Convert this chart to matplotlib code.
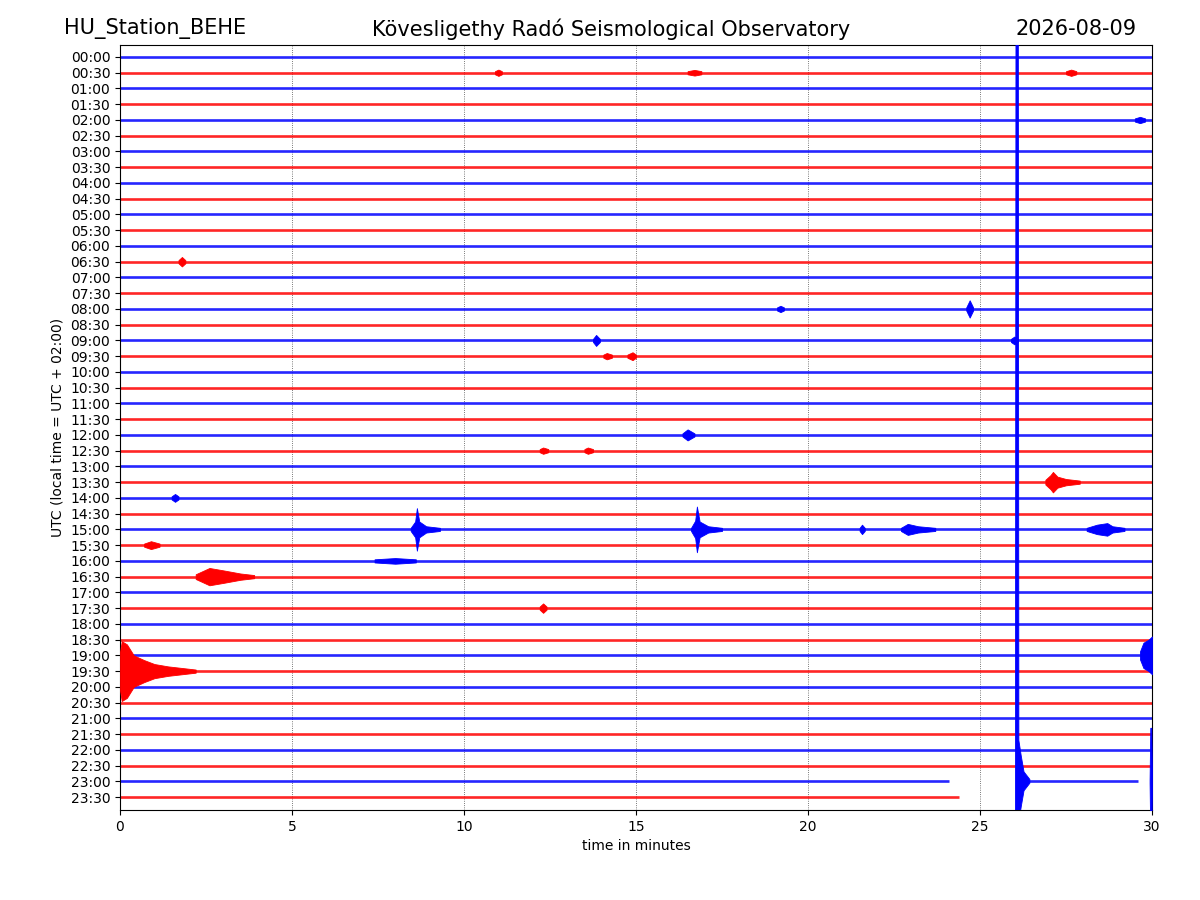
import matplotlib
matplotlib.use("Agg")
import matplotlib.pyplot as plt

# row labels: half-hour lines of the day
row_labels = ["%02d:%02d" % (h, m) for h in range(24) for m in (0, 30)]
row_colors = ["blue" if i % 2 == 0 else "red" for i in range(48)]

# trace segments per row (start, end in minutes); default full 0..30
trace_segments = {46: [(0.0, 24.1), (26.2, 29.6)],
                  47: [(0.0, 24.4)]}

# events: (row, times in minutes, half amplitude in row units)
events = [
    (39, [0.0, 0.05, 0.2, 0.4, 0.7, 1.0, 1.4, 1.8, 2.2],
         [1.2, 1.9, 1.7, 1.0, 0.7, 0.45, 0.3, 0.2, 0.1]),
    (38, [29.65, 29.75, 29.9, 30.0], [0.25, 0.8, 1.0, 1.2]),
    (46, [26.03, 26.05, 26.11, 26.13, 26.2, 26.28, 26.45],
         [0.1, 60.0, 60.0, 2.6, 1.6, 0.6, 0.12]),
    (46, [29.93, 29.95, 29.98, 30.0], [0.1, 3.4, 3.4, 0.5]),
    (27, [26.9, 27.05, 27.12, 27.25, 27.5, 27.9], [0.15, 0.45, 0.65, 0.35, 0.2, 0.1]),
    (30, [8.45, 8.58, 8.63, 8.7, 8.9, 9.3], [0.1, 0.5, 1.35, 0.5, 0.2, 0.1]),
    (30, [16.6, 16.72, 16.77, 16.85, 17.1, 17.5], [0.1, 0.55, 1.45, 0.5, 0.2, 0.1]),
    (30, [21.5, 21.57, 21.65], [0.1, 0.3, 0.1]),
    (30, [22.7, 22.9, 23.2, 23.7], [0.1, 0.35, 0.2, 0.1]),
    (30, [28.1, 28.4, 28.7, 28.85, 29.2], [0.1, 0.3, 0.4, 0.2, 0.1]),
    (28, [1.5, 1.6, 1.7], [0.1, 0.25, 0.1]),
    (31, [0.7, 0.9, 1.15], [0.1, 0.25, 0.1]),
    (32, [7.4, 8.0, 8.6], [0.1, 0.18, 0.1]),
    (33, [2.2, 2.6, 3.0, 3.5, 3.9], [0.15, 0.55, 0.4, 0.2, 0.1]),
    (35, [12.2, 12.3, 12.4], [0.1, 0.3, 0.1]),
    (24, [16.35, 16.5, 16.7], [0.1, 0.35, 0.1]),
    (25, [12.2, 12.3, 12.45], [0.1, 0.2, 0.1]),
    (25, [13.5, 13.6, 13.75], [0.1, 0.2, 0.1]),
    (18, [13.75, 13.84, 13.95], [0.1, 0.35, 0.1]),
    (18, [25.9, 26.0, 26.1], [0.1, 0.25, 0.1]),
    (19, [14.05, 14.15, 14.3], [0.1, 0.2, 0.1]),
    (19, [14.75, 14.9, 15.0], [0.1, 0.25, 0.1]),
    (16, [24.6, 24.7, 24.8], [0.1, 0.55, 0.1]),
    (16, [19.1, 19.2, 19.3], [0.1, 0.2, 0.1]),
    (13, [1.7, 1.8, 1.9], [0.1, 0.3, 0.1]),
    (4, [29.5, 29.65, 29.8], [0.1, 0.2, 0.1]),
    (1, [10.9, 11.0, 11.1], [0.1, 0.2, 0.1]),
    (1, [16.5, 16.7, 16.9], [0.1, 0.18, 0.1]),
    (1, [27.5, 27.65, 27.8], [0.1, 0.2, 0.1]),
]

fig = plt.figure(figsize=(12, 9), dpi=100)
ax = fig.add_axes([0.1, 0.1, 0.86, 0.85])

# background traces
for i in range(48):
    segs = trace_segments.get(i, [(0.0, 30.0)])
    for start, end in segs:
        ax.plot([start, end], [i, i], color=row_colors[i], lw=1.9, alpha=0.85,
                solid_capstyle="butt", zorder=2)

# events
for row, t, amp in events:
    lower = [row - a for a in amp]
    upper = [row + a for a in amp]
    ax.fill_between(t, lower, upper, color=row_colors[row], lw=0.6,
                    edgecolor=row_colors[row], zorder=3)

ax.set_xlim(0, 30)
ax.set_ylim(47.82, -0.762)
ax.set_xticks([0, 5, 10, 15, 20, 25, 30])
ax.set_yticks(range(48))
ax.set_yticklabels(row_labels)
for xg in [5, 10, 15, 20, 25]:
    ax.axvline(xg, color="black", ls=":", lw=0.6, alpha=0.7, zorder=1)

ax.set_xlabel("time in minutes")
ax.set_ylabel("UTC (local time = UTC + 02:00)")

fig.text(0.053, 0.968, "HU_Station_BEHE", fontsize=15, ha="left", va="center")
fig.text(0.509, 0.968, "Kövesligethy Radó Seismological Observatory", fontsize=15,
         ha="center", va="center")
fig.text(0.9475, 0.968, "2026-08-09", fontsize=15, ha="right", va="center")

fig.savefig("out.png", dpi=100)
